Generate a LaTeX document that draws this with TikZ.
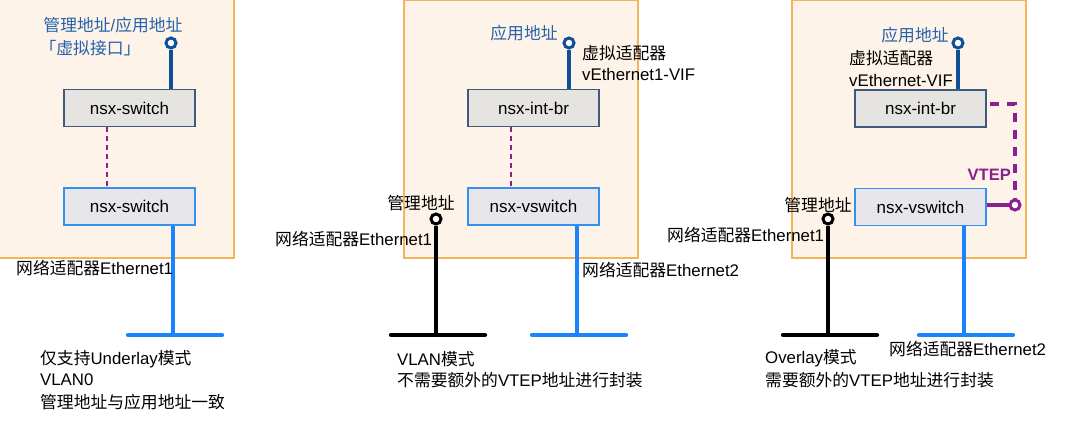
\documentclass[tikz,border=0pt]{standalone}
\usepackage{fontspec}
\setmainfont{Liberation Sans}
\newfontfamily\cjk{Noto Sans CJK SC}
\newcommand{\zh}[1]{{\cjk #1}}
\definecolor{hostfill}{HTML}{FEF3E8}
\definecolor{hostedge}{HTML}{F5B35A}
\definecolor{darkblue}{HTML}{0F4E98}
\definecolor{lblblue}{HTML}{2462AA}
\definecolor{brightblue}{HTML}{1A84FF}
\definecolor{vtep}{HTML}{8A1F8E}
\definecolor{grayfill}{HTML}{E6E4E1}
\definecolor{grayedge}{HTML}{3F5A7C}
\definecolor{bluefill}{HTML}{E7E7EB}
\definecolor{blueedge}{HTML}{3490F0}
\tikzset{
  host/.style={draw=hostedge, fill=hostfill, line width=1.3pt},
  brbox/.style={draw=grayedge, fill=grayfill, line width=1.3pt, minimum width=131pt, minimum height=37pt, inner sep=0pt, font=\fontsize{17}{20}\selectfont},
  swbox/.style={draw=blueedge, fill=bluefill, line width=1.3pt, minimum width=131pt, minimum height=37pt, inner sep=0pt, font=\fontsize{17}{20}\selectfont},
  txt/.style={inner sep=0pt, font=\fontsize{16.8}{20}\selectfont, text=black},
  bluetxt/.style={txt, text=lblblue},
  term/.style={circle, draw=#1, fill=white, line width=3pt, minimum size=10pt, inner sep=0pt},
  appline/.style={draw=darkblue, line width=4pt},
  nicline/.style={draw=brightblue, line width=4.3pt, line cap=round},
  mgmtline/.style={draw=black, line width=4.3pt, line cap=round},
  innerdash/.style={draw=vtep, line width=1.6pt, dash pattern=on 5pt off 4pt},
  vtepdash/.style={draw=vtep, line width=3.3pt, dash pattern=on 9pt off 8pt},
}
\begin{document}
\begin{tikzpicture}[x=1pt, y=-1pt]
\useasboundingbox (0,0) rectangle (1080,421);
\fill[white] (0,0) rectangle (1080,421);

% ---------------- Panel 1 ----------------
\draw[host] (-2,-2) rectangle (234,258);
\node[bluetxt] (p1a) at (113,25) {\zh{管理地址}/\zh{应用地址}};
\node[bluetxt] (p1b) at (90,48) {\zh{「虚拟接口」}};
\node[brbox] (br1) at (129.5,108) {nsx-switch};
\node[swbox] (sw1) at (129.5,206.5) {nsx-switch};
\node[term=darkblue] (t1) at (171,43) {};
\draw[appline] (t1) -- (t1 |- br1.north);
\draw[innerdash] (br1.south -| 107,0) -- (sw1.north -| 107,0);
\coordinate (b1) at (173,335);
\coordinate (b1l) at (128,335);
\coordinate (b1r) at (222,335);
\draw[nicline, line cap=butt] (b1 |- sw1.south) -- (b1);
\draw[nicline] (b1l) -- (b1r);
\node[txt, anchor=west] (e1) at (16,268) {\zh{网络适配器}Ethernet1};
\node[txt, anchor=west] (n1a) at (40,359) {\zh{仅支持}Underlay\zh{模式}};
\node[txt, anchor=west] (n1b) at (40,380) {VLAN0};
\node[txt, anchor=west] (n1c) at (40,402) {\zh{管理地址与应用地址一致}};

% ---------------- Panel 2 ----------------
\draw[host] (404,0) rectangle (638,258);
\node[bluetxt] (p2a) at (524,33) {\zh{应用地址}};
\node[txt, anchor=west] (p2b) at (582,53) {\zh{虚拟适配器}};
\node[txt, anchor=west] (p2c) at (582,74) {vEthernet1-VIF};
\node[brbox] (br2) at (533.5,108) {nsx-int-br};
\node[swbox] (sw2) at (533.5,206.5) {nsx-vswitch};
\node[term=darkblue] (t2) at (569,43) {};
\draw[appline] (t2) -- (t2 |- br2.north);
\draw[innerdash] (br2.south -| 511,0) -- (sw2.north -| 511,0);
\coordinate (b2) at (577,335);
\coordinate (b2l) at (532,335);
\coordinate (b2r) at (626,335);
\draw[nicline, line cap=butt] (b2 |- sw2.south) -- (b2);
\draw[nicline] (b2l) -- (b2r);
\node[txt, anchor=west] (e2) at (582,270) {\zh{网络适配器}Ethernet2};
\node[txt] (m2) at (421,203) {\zh{管理地址}};
\node[term=black] (t2m) at (436,219) {};
\coordinate (k2) at (436,335);
\coordinate (k2l) at (391,335);
\coordinate (k2r) at (485,335);
\draw[mgmtline, line cap=butt] (t2m) -- (k2);
\draw[mgmtline] (k2l) -- (k2r);
\node[txt, anchor=west] (e2m) at (275,239) {\zh{网络适配器}Ethernet1};
\node[txt, anchor=west] (n2a) at (397,359) {VLAN\zh{模式}};
\node[txt, anchor=west] (n2b) at (397,380) {\zh{不需要额外的}VTEP\zh{地址进行封装}};

% ---------------- Panel 3 ----------------
\draw[host] (792,0) rectangle (1026,258);
\node[bluetxt] (p3a) at (915,35) {\zh{应用地址}};
\node[txt, anchor=west] (p3b) at (849,58) {\zh{虚拟适配器}};
\node[txt, anchor=west] (p3c) at (849,80) {vEthernet-VIF};
\node[brbox] (br3) at (920.5,108.5) {nsx-int-br};
\node[swbox] (sw3) at (920.5,207) {nsx-vswitch};
\node[term=darkblue] (t3) at (958,43) {};
\draw[appline] (t3) -- (t3 |- br3.north);
\node[term=vtep] (vt) at (1015,205) {};
\draw[draw=vtep, line width=3.3pt] (sw3.east |- vt) -- (vt);
\coordinate (vtc) at (1015,104);
\draw[vtepdash] ([xshift=3pt]br3.east |- vtc) -- (vtc) -- (vt);
\node[inner sep=0pt, font=\fontsize{16.5}{20}\selectfont\bfseries, text=vtep, anchor=east] (vl) at (1011,175) {VTEP};
\coordinate (b3) at (964,335);
\coordinate (b3l) at (919,335);
\coordinate (b3r) at (1013,335);
\draw[nicline, line cap=butt] (b3 |- sw3.south) -- (b3);
\draw[nicline] (b3l) -- (b3r);
\node[txt, anchor=west] (e3) at (889,349) {\zh{网络适配器}Ethernet2};
\node[txt] (m3) at (818,205) {\zh{管理地址}};
\node[term=black] (t3m) at (828,219) {};
\coordinate (k3) at (828,335);
\coordinate (k3l) at (783,335);
\coordinate (k3r) at (877,335);
\draw[mgmtline, line cap=butt] (t3m) -- (k3);
\draw[mgmtline] (k3l) -- (k3r);
\node[txt, anchor=west] (e3m) at (667,235) {\zh{网络适配器}Ethernet1};
\node[txt, anchor=west] (n3a) at (765,358) {Overlay\zh{模式}};
\node[txt, anchor=west] (n3b) at (765,380) {\zh{需要额外的}VTEP\zh{地址进行封装}};
\end{tikzpicture}
\end{document}
